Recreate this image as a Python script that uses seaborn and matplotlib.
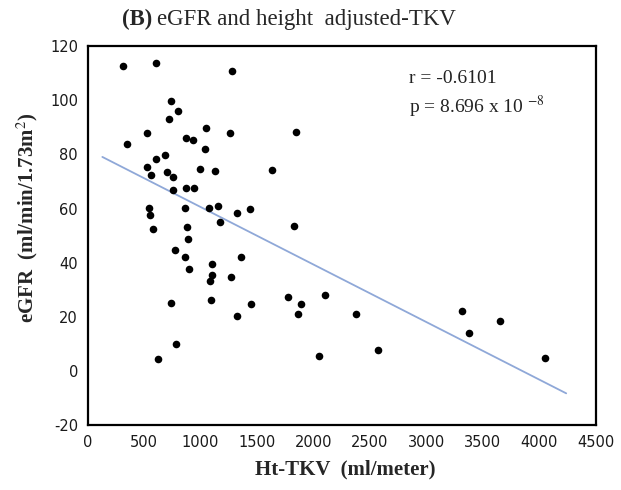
import numpy as np
import pandas as pd
import seaborn as sns
import matplotlib.pyplot as plt

# Data
ht_tkv = [311, 609, 1282, 734, 799, 719, 530, 1048, 1264, 1844,
          349, 867, 935, 1039, 684, 609, 530, 559, 701, 755,
          991, 1125, 1637, 755, 873, 938, 544, 553, 858, 1077,
          1157, 1435, 1320, 580, 1175, 876, 1829, 888, 773, 858,
          1361, 897, 1098, 1101, 1080, 1273, 734, 1089, 1444, 1776,
          1892, 1867, 2101, 1320, 781, 627, 2051, 2380, 2569, 3313,
          3380, 3653, 4052]
egfr = [112.7, 113.9, 110.9, 99.7, 96.0, 93.1, 87.9, 89.7, 87.9, 88.3,
        83.7, 86.1, 85.3, 82.2, 79.7, 78.5, 75.2, 72.6, 73.4, 71.6,
        74.6, 73.8, 74.3, 67.0, 67.5, 67.5, 60.2, 57.5, 60.1, 60.1,
        61.1, 59.7, 58.3, 52.6, 55.0, 53.1, 53.4, 48.9, 44.8, 42.2,
        42.2, 37.8, 39.6, 35.6, 33.3, 34.8, 25.2, 26.3, 24.8, 27.4,
        24.8, 21.1, 28.1, 20.4, 9.9, 4.4, 5.6, 21.1, 7.8, 22.2,
        14.1, 18.5, 4.8]

# regression line end points
fit_x = [130, 4240]
fit_y = [79.1, -8.3]

x_ticks = [0, 500, 1000, 1500, 2000, 2500, 3000, 3500, 4000, 4500]
y_ticks = [-20, 0, 20, 40, 60, 80, 100, 120]

df = pd.DataFrame({"x": ht_tkv, "y": egfr})
fit = pd.DataFrame({"x": fit_x, "y": fit_y})

sns.set_style("white")
plt.rcParams["axes.unicode_minus"] = False
plt.rcParams["mathtext.fontset"] = "stix"

fig = plt.figure(figsize=(6.21, 4.90), dpi=100)
ax = fig.add_axes([0.1412, 0.1327, 0.8178, 0.7728])

sns.lineplot(data=fit, x="x", y="y", color="#8fa8d8", linewidth=1.3, ax=ax)
sns.scatterplot(data=df, x="x", y="y", color="black", s=30, edgecolor="black",
                linewidth=0, ax=ax, zorder=3)

ax.set_xlim(0, 4500)
ax.set_ylim(-20, 120)
ax.set_xticks(x_ticks)
ax.set_yticks(y_ticks)
ax.tick_params(axis="both", direction="out", length=4, width=1.2, color="black",
               labelsize=10.5, pad=3)
for lab in ax.get_xticklabels() + ax.get_yticklabels():
    lab.set_fontfamily("DejaVu Sans")
    lab.set_color("#1a1a1a")
for sp in ax.spines.values():
    sp.set_visible(True)
    sp.set_color("black")
    sp.set_linewidth(1.6)

ax.set_xlabel("")
ax.set_ylabel("")

serif = "Liberation Serif"
fig.text(345 / 621, 1 - 469 / 490, "Ht-TKV  (ml/meter)", fontfamily=serif,
         fontweight="bold", fontsize=15, ha="center", va="center")
fig.text(27 / 621, 1 - 218 / 490, "eGFR  (ml/min/1.73m$^{2}$)", fontfamily=serif,
         fontweight="bold", fontsize=15, rotation=90, ha="center", va="center")

# title: bold (B), regular rest
fig.text(122 / 621, 1 - 19 / 490, "(B)", fontfamily=serif, fontweight="bold",
         fontsize=16.5, ha="left", va="center")
fig.text(157 / 621, 1 - 19 / 490, "eGFR and height  adjusted-TKV", fontfamily=serif,
         fontsize=16.5, ha="left", va="center")

ax.text(0.632, 0.915, "r = -0.6101", transform=ax.transAxes, fontfamily=serif,
        fontsize=14, color="#222222", ha="left", va="center")
ax.text(0.632, 0.84, "p = 8.696 x 10 $^{-8}$", transform=ax.transAxes, fontfamily=serif,
        fontsize=14, color="#222222", ha="left", va="center")

fig.savefig("out.png", dpi=100)
